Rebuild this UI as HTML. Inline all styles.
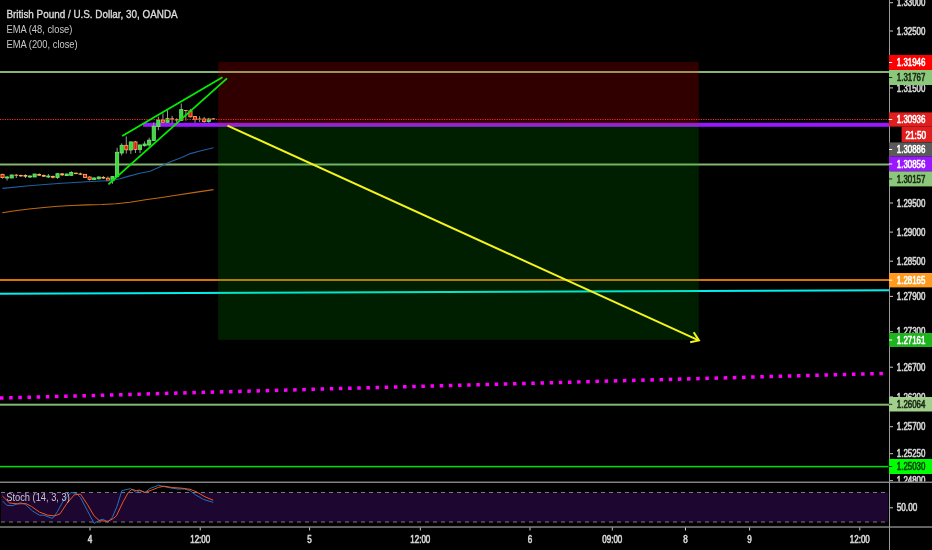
<!DOCTYPE html>
<html><head><meta charset="utf-8"><title>GBPUSD</title>
<style>html,body{margin:0;padding:0;background:#000;overflow:hidden}svg{display:block}text{font-family:"Liberation Sans",sans-serif}</style></head><body>
<svg width="932" height="550" viewBox="0 0 932 550">
<rect width="932" height="550" fill="#000"/>
<g id="hlines">
<rect x="0" y="71" width="889" height="2" fill="#86b472"/>
<rect x="0" y="163.5" width="889" height="2" fill="#86b472"/>
<rect x="0" y="403.7" width="889" height="2" fill="#86b472"/>
<rect x="0" y="279" width="889" height="2" fill="#d67400"/>
<line x1="0" y1="293.7" x2="889" y2="290.2" stroke="#00f0f0" stroke-width="2"/>
<rect x="0" y="465.85" width="888.5" height="1.5" fill="#00e000"/>
<line x1="0" y1="398.05" x2="883" y2="373.45" stroke="#ff00ff" stroke-width="3.5" stroke-dasharray="3.5 5.664"/>
</g>
<rect x="143" y="122.8" width="746" height="4" fill="#9a18ff"/>
<g id="candles">
<rect x="2.02" y="173.8" width="1" height="4.8" fill="#9a9a9a"/>
<rect x="0.92" y="174.3" width="3.2" height="3.3" fill="#e01818" stroke="#ffb450" stroke-width="0.8"/>
<rect x="6.60" y="176.0" width="1" height="4.5" fill="#9a9a9a"/>
<rect x="5.50" y="177.0" width="3.2" height="1.0" fill="#3fd83f" stroke="#70ea70" stroke-width="0.8"/>
<rect x="11.18" y="174.5" width="1" height="3.5" fill="#9a9a9a"/>
<rect x="10.08" y="175.0" width="3.2" height="3.0" fill="#3fd83f" stroke="#70ea70" stroke-width="0.8"/>
<rect x="15.77" y="174.0" width="1" height="4.0" fill="#9a9a9a"/>
<rect x="14.37" y="174.7" width="3.8" height="1.0" fill="#ffb450"/>
<rect x="20.35" y="174.6" width="1" height="2.4" fill="#9a9a9a"/>
<rect x="18.95" y="175.0" width="3.8" height="1.3" fill="#ffb450"/>
<rect x="24.93" y="174.3" width="1" height="3.7" fill="#9a9a9a"/>
<rect x="23.53" y="175.0" width="3.8" height="1.7" fill="#ffb450"/>
<rect x="29.52" y="175.3" width="1" height="2.7" fill="#9a9a9a"/>
<rect x="28.42" y="176.0" width="3.2" height="1.0" fill="#3fd83f" stroke="#70ea70" stroke-width="0.8"/>
<rect x="34.10" y="174.0" width="1" height="3.0" fill="#9a9a9a"/>
<rect x="33.00" y="174.0" width="3.2" height="3.0" fill="#3fd83f" stroke="#70ea70" stroke-width="0.8"/>
<rect x="38.68" y="173.3" width="1" height="2.7" fill="#9a9a9a"/>
<rect x="37.28" y="174.0" width="3.8" height="1.7" fill="#ffb450"/>
<rect x="43.27" y="174.5" width="1" height="2.5" fill="#9a9a9a"/>
<rect x="41.87" y="175.0" width="3.8" height="1.7" fill="#ffb450"/>
<rect x="47.85" y="174.0" width="1" height="4.0" fill="#9a9a9a"/>
<rect x="46.75" y="176.0" width="3.2" height="1.0" fill="#3fd83f" stroke="#70ea70" stroke-width="0.8"/>
<rect x="52.43" y="175.5" width="1" height="3.0" fill="#9a9a9a"/>
<rect x="51.03" y="176.0" width="3.8" height="1.7" fill="#ffb450"/>
<rect x="57.02" y="173.2" width="1" height="5.6" fill="#9a9a9a"/>
<rect x="55.92" y="173.7" width="3.2" height="3.8" fill="#3fd83f" stroke="#70ea70" stroke-width="0.8"/>
<rect x="61.60" y="173.0" width="1" height="3.0" fill="#9a9a9a"/>
<rect x="60.20" y="173.4" width="3.8" height="1.9" fill="#ffb450"/>
<rect x="66.18" y="173.6" width="1" height="2.4" fill="#9a9a9a"/>
<rect x="65.08" y="174.0" width="3.2" height="1.6" fill="#3fd83f" stroke="#70ea70" stroke-width="0.8"/>
<rect x="70.77" y="171.2" width="1" height="4.8" fill="#9a9a9a"/>
<rect x="69.67" y="172.4" width="3.2" height="2.9" fill="#3fd83f" stroke="#70ea70" stroke-width="0.8"/>
<rect x="75.35" y="172.7" width="1" height="1.6" fill="#9a9a9a"/>
<rect x="73.95" y="172.7" width="3.8" height="1.3" fill="#ffb450"/>
<rect x="79.93" y="172.6" width="1" height="2.4" fill="#9a9a9a"/>
<rect x="78.53" y="173.4" width="3.8" height="1.3" fill="#ffb450"/>
<rect x="84.52" y="174.0" width="1" height="3.8" fill="#9a9a9a"/>
<rect x="83.42" y="174.3" width="3.2" height="3.2" fill="#e01818" stroke="#ffb450" stroke-width="0.8"/>
<rect x="89.10" y="176.2" width="1" height="4.3" fill="#9a9a9a"/>
<rect x="88.00" y="177.0" width="3.2" height="2.5" fill="#e01818" stroke="#ffb450" stroke-width="0.8"/>
<rect x="93.68" y="177.2" width="1" height="2.3" fill="#9a9a9a"/>
<rect x="92.58" y="178.0" width="3.2" height="1.5" fill="#3fd83f" stroke="#70ea70" stroke-width="0.8"/>
<rect x="98.27" y="176.3" width="1" height="3.2" fill="#9a9a9a"/>
<rect x="97.17" y="177.0" width="3.2" height="1.8" fill="#3fd83f" stroke="#70ea70" stroke-width="0.8"/>
<rect x="102.85" y="176.0" width="1" height="3.0" fill="#9a9a9a"/>
<rect x="101.45" y="177.0" width="3.8" height="1.5" fill="#ffb450"/>
<rect x="107.43" y="176.5" width="1" height="4.3" fill="#9a9a9a"/>
<rect x="106.33" y="178.2" width="3.2" height="2.6" fill="#e01818" stroke="#ffb450" stroke-width="0.8"/>
<rect x="112.02" y="176.3" width="1" height="7.4" fill="#9a9a9a"/>
<rect x="110.92" y="176.6" width="3.2" height="4.2" fill="#3fd83f" stroke="#70ea70" stroke-width="0.8"/>
<rect x="116.60" y="147.8" width="1" height="28.9" fill="#9a9a9a"/>
<rect x="115.50" y="152.3" width="3.2" height="24.4" fill="#3fd83f" stroke="#70ea70" stroke-width="0.8"/>
<rect x="121.18" y="143.4" width="1" height="12.1" fill="#9a9a9a"/>
<rect x="120.08" y="145.3" width="3.2" height="7.7" fill="#3fd83f" stroke="#70ea70" stroke-width="0.8"/>
<rect x="125.77" y="136.4" width="1" height="17.2" fill="#9a9a9a"/>
<rect x="124.67" y="145.3" width="3.2" height="4.5" fill="#e01818" stroke="#ffb450" stroke-width="0.8"/>
<rect x="130.35" y="141.9" width="1" height="12.0" fill="#9a9a9a"/>
<rect x="129.25" y="141.9" width="3.2" height="8.1" fill="#3fd83f" stroke="#70ea70" stroke-width="0.8"/>
<rect x="134.93" y="140.9" width="1" height="12.1" fill="#9a9a9a"/>
<rect x="133.83" y="141.9" width="3.2" height="7.6" fill="#e01818" stroke="#ffb450" stroke-width="0.8"/>
<rect x="139.52" y="144.5" width="1" height="8.5" fill="#9a9a9a"/>
<rect x="138.42" y="145.0" width="3.2" height="4.5" fill="#3fd83f" stroke="#70ea70" stroke-width="0.8"/>
<rect x="144.10" y="141.5" width="1" height="5.1" fill="#9a9a9a"/>
<rect x="143.00" y="144.0" width="3.2" height="1.7" fill="#3fd83f" stroke="#70ea70" stroke-width="0.8"/>
<rect x="148.68" y="137.7" width="1" height="8.9" fill="#9a9a9a"/>
<rect x="147.58" y="140.2" width="3.2" height="4.8" fill="#3fd83f" stroke="#70ea70" stroke-width="0.8"/>
<rect x="153.27" y="122.4" width="1" height="18.5" fill="#9a9a9a"/>
<rect x="152.17" y="126.2" width="3.2" height="14.3" fill="#3fd83f" stroke="#70ea70" stroke-width="0.8"/>
<rect x="157.85" y="116.6" width="1" height="13.6" fill="#9a9a9a"/>
<rect x="156.75" y="120.0" width="3.2" height="6.6" fill="#3fd83f" stroke="#70ea70" stroke-width="0.8"/>
<rect x="162.43" y="113.4" width="1" height="8.9" fill="#9a9a9a"/>
<rect x="161.33" y="120.0" width="3.2" height="2.3" fill="#e01818" stroke="#ffb450" stroke-width="0.8"/>
<rect x="167.02" y="110.2" width="1" height="12.1" fill="#9a9a9a"/>
<rect x="165.92" y="118.6" width="3.2" height="3.7" fill="#3fd83f" stroke="#70ea70" stroke-width="0.8"/>
<rect x="171.60" y="115.8" width="1" height="7.7" fill="#9a9a9a"/>
<rect x="170.20" y="118.4" width="3.8" height="1.1" fill="#ffb450"/>
<rect x="176.18" y="118.2" width="1" height="4.5" fill="#9a9a9a"/>
<rect x="174.78" y="119.0" width="3.8" height="1.4" fill="#ffb450"/>
<rect x="180.77" y="103.5" width="1" height="17.2" fill="#9a9a9a"/>
<rect x="179.67" y="109.6" width="3.2" height="10.7" fill="#3fd83f" stroke="#70ea70" stroke-width="0.8"/>
<rect x="185.35" y="110.0" width="1" height="10.7" fill="#9a9a9a"/>
<rect x="183.95" y="110.0" width="3.8" height="0.9" fill="#ffb450"/>
<rect x="189.93" y="108.8" width="1" height="8.6" fill="#9a9a9a"/>
<rect x="188.83" y="110.9" width="3.2" height="5.9" fill="#e01818" stroke="#ffb450" stroke-width="0.8"/>
<rect x="194.52" y="116.2" width="1" height="6.5" fill="#9a9a9a"/>
<rect x="193.42" y="116.6" width="3.2" height="2.8" fill="#e01818" stroke="#ffb450" stroke-width="0.8"/>
<rect x="199.10" y="116.2" width="1" height="5.7" fill="#9a9a9a"/>
<rect x="197.70" y="118.6" width="3.8" height="0.9" fill="#ffb450"/>
<rect x="203.68" y="117.0" width="1" height="5.7" fill="#9a9a9a"/>
<rect x="202.58" y="119.0" width="3.2" height="2.5" fill="#e01818" stroke="#ffb450" stroke-width="0.8"/>
<rect x="208.27" y="117.8" width="1" height="4.9" fill="#9a9a9a"/>
<rect x="207.17" y="119.0" width="3.2" height="2.5" fill="#3fd83f" stroke="#70ea70" stroke-width="0.8"/>
<rect x="212.85" y="118.2" width="1" height="1.4" fill="#9a9a9a"/>
<rect x="211.45" y="118.4" width="3.8" height="0.9" fill="#ffb450"/>
</g>
<polyline points="2.3,188.4 29.0,185.7 58.0,183.5 87.0,181.7 110.5,180.5 120.0,178.8 128.0,176.4 140.0,173.3 150.0,171.2 158.0,167.8 166.4,163.5 175.0,160.0 181.7,157.5 190.4,153.6 200.0,151.0 213.5,147.7" fill="none" stroke="#2060a0" stroke-width="1.1" stroke-linejoin="round" />
<polyline points="2.3,212.7 15.0,210.8 29.0,209.0 44.0,207.5 58.0,206.3 72.0,205.5 87.0,204.9 102.0,204.5 116.0,203.8 130.0,202.2 145.5,199.8 160.0,197.7 174.5,195.5 195.0,192.4 213.5,189.6" fill="none" stroke="#c06a10" stroke-width="1.1" stroke-linejoin="round" />
<line x1="0" y1="119.5" x2="889" y2="119.5" stroke="#ff2a2a" stroke-width="1" stroke-dasharray="1.2 1.2"/>
<rect x="218.5" y="62.3" width="480" height="62.5" fill="#ff0000" fill-opacity="0.19" stroke="#ff0000" stroke-opacity="0.06" stroke-width="1"/>
<rect x="218.5" y="125" width="480" height="214.5" fill="#00c000" fill-opacity="0.155" stroke="#00d000" stroke-opacity="0.06" stroke-width="1"/>
<line x1="122.2" y1="136" x2="222.5" y2="77.2" stroke="#00f000" stroke-width="1.8"/>
<line x1="108.4" y1="184.3" x2="227" y2="78.3" stroke="#00f000" stroke-width="1.8"/>
<g stroke="#f4f41a" stroke-width="2" fill="none" stroke-linecap="butt" stroke-linejoin="miter"><line x1="227.5" y1="125.6" x2="698.7" y2="340.3"/><polyline points="693.7,332.3 698.9,340.4 690.2,342.2"/></g>
<rect x="0" y="481.6" width="932" height="1.25" fill="#9c9c9c"/>
<rect x="0" y="526.4" width="932" height="1.25" fill="#9c9c9c"/>
<rect x="1" y="492.5" width="887" height="29.5" fill="#1d0630"/>
<line x1="1" y1="492.5" x2="888" y2="492.5" stroke="#7a7a7a" stroke-width="1" stroke-dasharray="4 4"/>
<line x1="1" y1="522" x2="888" y2="522" stroke="#7a7a7a" stroke-width="1" stroke-dasharray="4 4"/>
<polyline points="2.5,500.9 6.8,505.3 12.3,505.7 20.5,502.7 25.2,504.3 32.7,511.1 39.5,515.2 43.6,515.2 52.5,518.4 57.3,511.8 64.1,499.5 70.9,492.5 76.4,493.4 80.5,497.5 87.3,510.5 94.1,523.4 100.9,519.6 103.4,519.3 107.5,522.5 112.3,517.3 117.0,506.4 121.8,490.7 130.7,488.6 136.1,492.5 139.5,490.7 145.0,492.5 149.8,488.6 158.6,485.2 164.1,486.6 170.9,488.0 177.7,489.0 184.5,489.0 190.0,490.7 195.5,494.8 203.6,499.5 213.2,502.3" fill="none" stroke="#2079c8" stroke-width="0.95" stroke-linejoin="round" />
<polyline points="2.5,496.1 9.5,503.0 17.7,503.9 25.9,503.6 31.4,506.4 39.5,512.1 47.7,515.2 54.5,515.9 60.0,513.9 66.8,503.6 74.3,494.8 80.5,494.1 87.3,504.3 94.1,515.9 99.5,520.7 108.2,521.2 113.2,518.6 116.4,515.9 123.2,501.6 128.6,492.0 132.0,489.3 136.1,490.7 139.5,490.0 145.0,492.5 151.8,490.0 158.6,487.3 164.1,486.2 172.3,487.5 181.8,488.2 190.0,489.3 196.8,492.0 205.0,496.8 213.2,500.2" fill="none" stroke="#ff5a1e" stroke-width="0.95" stroke-linejoin="round" />
<rect x="889" y="0" width="1" height="550" fill="#9a9a9a"/>
<clipPath id="cp"><rect x="889" y="0" width="43" height="481.5"/></clipPath>
<g clip-path="url(#cp)">
<rect x="890" y="2.2" width="3" height="1" fill="#c8c8c8"/>
<text x="896.8" y="6.3" font-size="10" fill="#d6d6d6" stroke="#d6d6d6" stroke-width="0.6" textLength="28.6" lengthAdjust="spacingAndGlyphs">1.33000</text>
<rect x="890" y="30.5" width="3" height="1" fill="#c8c8c8"/>
<text x="896.8" y="34.6" font-size="10" fill="#d6d6d6" stroke="#d6d6d6" stroke-width="0.6" textLength="28.6" lengthAdjust="spacingAndGlyphs">1.32500</text>
<rect x="890" y="87.4" width="3" height="1" fill="#c8c8c8"/>
<text x="896.8" y="91.5" font-size="10" fill="#d6d6d6" stroke="#d6d6d6" stroke-width="0.6" textLength="28.6" lengthAdjust="spacingAndGlyphs">1.31500</text>
<rect x="890" y="202.5" width="3" height="1" fill="#c8c8c8"/>
<text x="896.8" y="206.6" font-size="10" fill="#d6d6d6" stroke="#d6d6d6" stroke-width="0.6" textLength="28.6" lengthAdjust="spacingAndGlyphs">1.29500</text>
<rect x="890" y="231.6" width="3" height="1" fill="#c8c8c8"/>
<text x="896.8" y="235.7" font-size="10" fill="#d6d6d6" stroke="#d6d6d6" stroke-width="0.6" textLength="28.6" lengthAdjust="spacingAndGlyphs">1.29000</text>
<rect x="890" y="260.7" width="3" height="1" fill="#c8c8c8"/>
<text x="896.8" y="264.8" font-size="10" fill="#d6d6d6" stroke="#d6d6d6" stroke-width="0.6" textLength="28.6" lengthAdjust="spacingAndGlyphs">1.28500</text>
<rect x="890" y="295.9" width="3" height="1" fill="#c8c8c8"/>
<text x="896.8" y="300.0" font-size="10" fill="#d6d6d6" stroke="#d6d6d6" stroke-width="0.6" textLength="28.6" lengthAdjust="spacingAndGlyphs">1.27900</text>
<rect x="890" y="331.2" width="3" height="1" fill="#c8c8c8"/>
<text x="896.8" y="335.3" font-size="10" fill="#d6d6d6" stroke="#d6d6d6" stroke-width="0.6" textLength="28.6" lengthAdjust="spacingAndGlyphs">1.27300</text>
<rect x="890" y="366.7" width="3" height="1" fill="#c8c8c8"/>
<text x="896.8" y="370.8" font-size="10" fill="#d6d6d6" stroke="#d6d6d6" stroke-width="0.6" textLength="28.6" lengthAdjust="spacingAndGlyphs">1.26700</text>
<rect x="890" y="396.4" width="3" height="1" fill="#c8c8c8"/>
<text x="896.8" y="400.5" font-size="10" fill="#d6d6d6" stroke="#d6d6d6" stroke-width="0.6" textLength="28.6" lengthAdjust="spacingAndGlyphs">1.26200</text>
<rect x="890" y="426.2" width="3" height="1" fill="#c8c8c8"/>
<text x="896.8" y="430.3" font-size="10" fill="#d6d6d6" stroke="#d6d6d6" stroke-width="0.6" textLength="28.6" lengthAdjust="spacingAndGlyphs">1.25700</text>
<rect x="890" y="453.2" width="3" height="1" fill="#c8c8c8"/>
<text x="896.8" y="457.3" font-size="10" fill="#d6d6d6" stroke="#d6d6d6" stroke-width="0.6" textLength="28.6" lengthAdjust="spacingAndGlyphs">1.25250</text>
<rect x="890" y="480.2" width="3" height="1" fill="#c8c8c8"/>
<text x="896.8" y="484.3" font-size="10" fill="#d6d6d6" stroke="#d6d6d6" stroke-width="0.6" textLength="28.6" lengthAdjust="spacingAndGlyphs">1.24800</text>
</g>
<rect x="890" y="507.3" width="3" height="1" fill="#c8c8c8"/>
<text x="896.8" y="511.4" font-size="10" fill="#d6d6d6" stroke="#d6d6d6" stroke-width="0.6" textLength="20.4" lengthAdjust="spacingAndGlyphs">50.00</text>
<rect x="889" y="55.0" width="43" height="15.0" fill="#ff0000"/>
<rect x="889" y="62.0" width="3.2" height="1" fill="#ffffff"/>
<text x="896.8" y="66.1" font-size="10" fill="#ffffff" stroke="#ffffff" stroke-width="0.6" textLength="28.6" lengthAdjust="spacingAndGlyphs">1.31946</text>
<rect x="889" y="70.0" width="43" height="15.0" fill="#8cc87c"/>
<rect x="889" y="77.0" width="3.2" height="1" fill="#1a2a14"/>
<text x="896.8" y="81.1" font-size="10" fill="#1a2a14" stroke="#1a2a14" stroke-width="0.6" textLength="28.6" lengthAdjust="spacingAndGlyphs">1.31767</text>
<rect x="889" y="112.4" width="43" height="14.2" fill="#e01e1e"/>
<rect x="889" y="119.0" width="3.2" height="1" fill="#ffffff"/>
<text x="896.8" y="123.1" font-size="10" fill="#ffffff" stroke="#ffffff" stroke-width="0.6" textLength="28.6" lengthAdjust="spacingAndGlyphs">1.30936</text>
<rect x="901.6" y="126.6" width="30.4" height="15.6" fill="#e01e1e"/>
<text x="905.5" y="138.6" font-size="10" fill="#ffffff" stroke="#ffffff" stroke-width="0.6" textLength="20.5" lengthAdjust="spacingAndGlyphs">21:50</text>
<rect x="889" y="142.4" width="43" height="14.2" fill="#5a5a5a"/>
<rect x="889" y="149.0" width="3.2" height="1" fill="#ffffff"/>
<text x="896.8" y="153.1" font-size="10" fill="#ffffff" stroke="#ffffff" stroke-width="0.6" textLength="28.6" lengthAdjust="spacingAndGlyphs">1.30886</text>
<rect x="889" y="156.6" width="43" height="14.8" fill="#9a18ff"/>
<rect x="889" y="163.5" width="3.2" height="1" fill="#ffffff"/>
<text x="896.8" y="167.6" font-size="10" fill="#ffffff" stroke="#ffffff" stroke-width="0.6" textLength="28.6" lengthAdjust="spacingAndGlyphs">1.30856</text>
<rect x="889" y="171.4" width="43" height="15.0" fill="#8cc87c"/>
<rect x="889" y="178.4" width="3.2" height="1" fill="#1a2a14"/>
<text x="896.8" y="182.5" font-size="10" fill="#1a2a14" stroke="#1a2a14" stroke-width="0.6" textLength="28.6" lengthAdjust="spacingAndGlyphs">1.30157</text>
<rect x="889" y="273.0" width="43" height="14.4" fill="#ff9a1e"/>
<rect x="889" y="279.7" width="3.2" height="1" fill="#ffffff"/>
<text x="896.8" y="283.8" font-size="10" fill="#ffffff" stroke="#ffffff" stroke-width="0.6" textLength="28.6" lengthAdjust="spacingAndGlyphs">1.28165</text>
<rect x="889" y="333.0" width="43" height="14.0" fill="#1eb41e"/>
<rect x="889" y="339.5" width="3.2" height="1" fill="#ffffff"/>
<text x="896.8" y="343.6" font-size="10" fill="#ffffff" stroke="#ffffff" stroke-width="0.6" textLength="28.6" lengthAdjust="spacingAndGlyphs">1.27161</text>
<rect x="889" y="397.0" width="43" height="14.5" fill="#a0d08c"/>
<rect x="889" y="403.8" width="3.2" height="1" fill="#1a2a14"/>
<text x="896.8" y="407.9" font-size="10" fill="#1a2a14" stroke="#1a2a14" stroke-width="0.6" textLength="28.6" lengthAdjust="spacingAndGlyphs">1.26064</text>
<rect x="889" y="459.0" width="43" height="15.0" fill="#00ff00"/>
<rect x="889" y="466.0" width="3.2" height="1" fill="#0a3a0a"/>
<text x="896.8" y="470.1" font-size="10" fill="#0a3a0a" stroke="#0a3a0a" stroke-width="0.6" textLength="28.6" lengthAdjust="spacingAndGlyphs">1.25030</text>
<rect x="89.5" y="527.5" width="1" height="3" fill="#c8c8c8"/>
<text x="90.0" y="543" font-size="10" fill="#d6d6d6" stroke="#d6d6d6" stroke-width="0.6" text-anchor="middle" textLength="4.5" lengthAdjust="spacingAndGlyphs">4</text>
<rect x="199.7" y="527.5" width="1" height="3" fill="#c8c8c8"/>
<text x="200.2" y="543" font-size="10" fill="#d6d6d6" stroke="#d6d6d6" stroke-width="0.6" text-anchor="middle" textLength="20" lengthAdjust="spacingAndGlyphs">12:00</text>
<rect x="309.1" y="527.5" width="1" height="3" fill="#c8c8c8"/>
<text x="309.6" y="543" font-size="10" fill="#d6d6d6" stroke="#d6d6d6" stroke-width="0.6" text-anchor="middle" textLength="4.5" lengthAdjust="spacingAndGlyphs">5</text>
<rect x="419.8" y="527.5" width="1" height="3" fill="#c8c8c8"/>
<text x="420.3" y="543" font-size="10" fill="#d6d6d6" stroke="#d6d6d6" stroke-width="0.6" text-anchor="middle" textLength="20" lengthAdjust="spacingAndGlyphs">12:00</text>
<rect x="529.5" y="527.5" width="1" height="3" fill="#c8c8c8"/>
<text x="530.0" y="543" font-size="10" fill="#d6d6d6" stroke="#d6d6d6" stroke-width="0.6" text-anchor="middle" textLength="4.5" lengthAdjust="spacingAndGlyphs">6</text>
<rect x="611.8" y="527.5" width="1" height="3" fill="#c8c8c8"/>
<text x="612.3" y="543" font-size="10" fill="#d6d6d6" stroke="#d6d6d6" stroke-width="0.6" text-anchor="middle" textLength="20" lengthAdjust="spacingAndGlyphs">09:00</text>
<rect x="685.0" y="527.5" width="1" height="3" fill="#c8c8c8"/>
<text x="685.5" y="543" font-size="10" fill="#d6d6d6" stroke="#d6d6d6" stroke-width="0.6" text-anchor="middle" textLength="4.5" lengthAdjust="spacingAndGlyphs">8</text>
<rect x="749.1" y="527.5" width="1" height="3" fill="#c8c8c8"/>
<text x="749.6" y="543" font-size="10" fill="#d6d6d6" stroke="#d6d6d6" stroke-width="0.6" text-anchor="middle" textLength="4.5" lengthAdjust="spacingAndGlyphs">9</text>
<rect x="859.3" y="527.5" width="1" height="3" fill="#c8c8c8"/>
<text x="859.8" y="543" font-size="10" fill="#d6d6d6" stroke="#d6d6d6" stroke-width="0.6" text-anchor="middle" textLength="20" lengthAdjust="spacingAndGlyphs">12:00</text>
<text x="6.4" y="18.2" font-size="11" fill="#dcdcdc" stroke="#dcdcdc" stroke-width="0.35" textLength="171.3" lengthAdjust="spacingAndGlyphs">British Pound / U.S. Dollar, 30, OANDA</text>
<text x="6.4" y="33.3" font-size="11" fill="#c8c8c8" textLength="66" lengthAdjust="spacingAndGlyphs">EMA (48, close)</text>
<text x="6.4" y="48.3" font-size="11" fill="#c8c8c8" textLength="71.3" lengthAdjust="spacingAndGlyphs">EMA (200, close)</text>
<text x="6.2" y="500.9" font-size="11" fill="#c8c8c8" textLength="63.6" lengthAdjust="spacingAndGlyphs">Stoch (14, 3, 3)</text>
</svg></body></html>
